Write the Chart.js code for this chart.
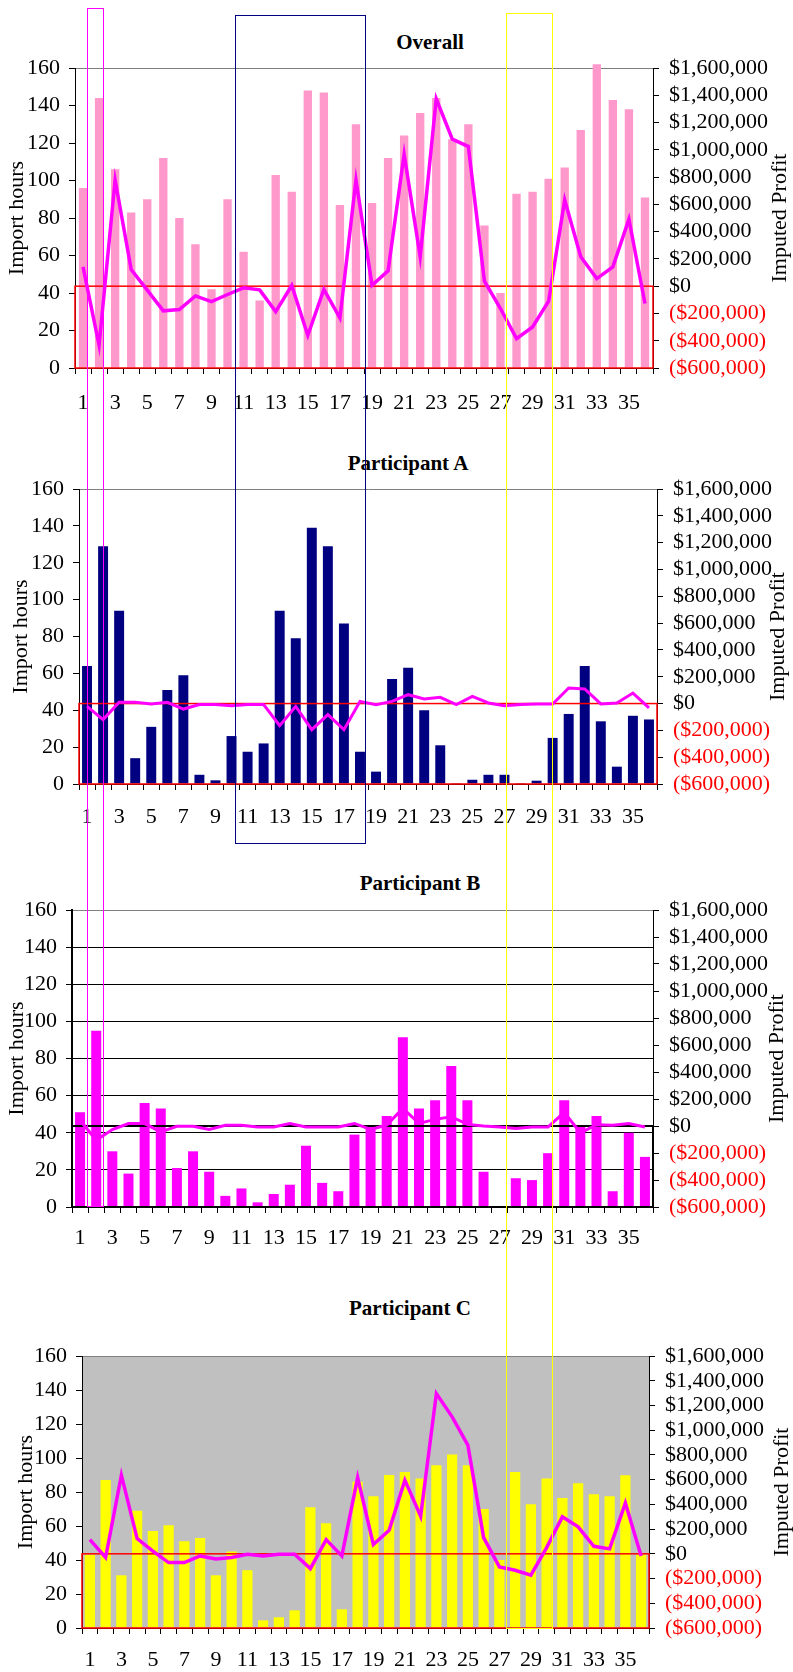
<!DOCTYPE html>
<html>
<head>
<meta charset="utf-8">
<script src="https://cdn.jsdelivr.net/npm/chart.js@4.4.1/dist/chart.umd.min.js"></script>
<style>
  body { margin: 0; background: #fff; }
  #page { position: relative; width: 793px; height: 1672px; overflow: hidden; font-family: "Liberation Serif", "Times New Roman", serif; }
  canvas { position: absolute; left: 0; }
  .title { position: absolute; font-weight: bold; font-size: 21px; line-height: 1; transform: translate(-50%, -50%); white-space: nowrap; color: #000; }
  .mark { position: absolute; box-sizing: border-box; pointer-events: none; z-index: 5; }
</style>
</head>
<body>
<div id="page">
  <div class="title" style="left:430px;top:42px">Overall</div>
  <div class="title" style="left:408px;top:463px">Participant A</div>
  <div class="title" style="left:420px;top:883px">Participant B</div>
  <div class="title" style="left:410px;top:1308px">Participant C</div>

  <canvas id="overall"></canvas>
  <canvas id="partA"></canvas>
  <canvas id="partB"></canvas>
  <canvas id="partC"></canvas>

  <div class="mark" style="left:87px;top:8px;width:17px;height:1199px;border:1.5px solid #FF00FF"></div>
  <div class="mark" style="left:235px;top:15px;width:131px;height:829px;border:1.5px solid #000080"></div>
  <div class="mark" style="left:506px;top:13px;width:47px;height:1616px;border:1.5px solid #FFFF00"></div>
</div>

<script>
const days = ['1','2','3','4','5','6','7','8','9','10','11','12','13','14','15','16','17','18',
              '19','20','21','22','23','24','25','26','27','28','29','30','31','32','33','34','35','36'];

// import hours (left axis)
const overallHours = [96,144,106,83,90,112,80,66,42,90,62,36,103,94,148,147,87,130,
                      88,112,124,136,144,122,130,76,40,93,94,101,107,127,162,143,138,91];
const aHours = [64,129,94,14,31,51,59,5,2,26,17.5,22,94,79,139,129,87,17.5,
                6.7,57,63,40,21,0.5,2.3,5,5,0.5,1.8,25,38,64,34,9.4,37,35];
const bHours = [51,95,30,18,56,53,21,30,19,6,10,2.5,7,12,33,13,8.5,39,
                44,49,91.5,53,57.5,76,57.5,19,0,15.5,14.5,29,57.5,44,49,8.5,40,27];
const cHours = [43,87,31,69,57,60.5,51,53,31,45,34,4.5,6.3,10.4,71,61.6,11,86,
                77.5,90,91.7,88,95.8,102,95.8,70,40,91.7,72.8,88,76.4,85.2,78.7,77.5,89.9,43];

// imputed profit (right axis)
const overallProfit = [142000,-434000,779000,122000,-29000,-181000,-171000,-71000,-113000,-61000,-12000,-27000,
                       -186000,5000,-360000,-24000,-233000,779000,7000,113000,968000,216000,1374000,1078000,
                       1024000,37000,-164000,-385000,-299000,-110000,632000,216000,56000,142000,492000,-127000];
const aProfit = [-21000,-120000,9000,9000,-3000,9000,-41000,-8000,-8000,-16000,-8000,-8000,
                 -165000,-21000,-195000,-83000,-195000,16000,-8000,16000,66000,34000,46000,-8000,
                 54000,4000,-16000,-8000,-3000,-3000,116000,109000,-3000,4000,78000,-33000];
const bProfit = [43000,-105000,-26000,18000,18000,-44000,-2000,-2000,-26000,6000,6000,-7000,
                 -7000,18000,-7000,-7000,-7000,19000,-25000,7000,130000,19000,49000,69000,
                 12000,0,-7000,-19000,-7000,-7000,100000,-50000,10000,6000,18000,-7000];
const cProfit = [115000,-30000,636000,123000,21000,-71000,-71000,-17000,-41000,-30000,-4000,-17000,
                 -4000,-4000,-120000,115000,-17000,617000,75000,191000,596000,304000,1297000,1108000,
                 879000,131000,-106000,-133000,-173000,50000,299000,218000,61000,40000,412000,-17000];

const hourTicks = { min: 0, max: 160, step: 20 };
const profitTicks = { min: -600000, max: 1600000, step: 200000 };

Chart.defaults.font.family = '"Liberation Serif", "Times New Roman", serif';
Chart.defaults.font.size = 22;
Chart.defaults.color = '#000';

const W = 793;

function money(v) {
  const s = '$' + Math.abs(v).toLocaleString('en-US');
  return v < 0 ? '(' + s + ')' : s;
}

// zero-profit box, plot background and the right axis title
const panelDecor = {
  id: 'panelDecor',
  beforeDraw(chart, args, o) {
    if (!o.plotBg) return;
    const a = chart.chartArea, ctx = chart.ctx;
    ctx.save();
    ctx.fillStyle = o.plotBg;
    ctx.fillRect(a.left, a.top, a.right - a.left, a.bottom - a.top);
    ctx.restore();
  },
  afterDatasetDraw(chart, args, o) {
    if (args.index !== 0) return;
    const a = chart.chartArea, ctx = chart.ctx;
    const y0 = chart.scales.y1.getPixelForValue(0);
    ctx.save();
    ctx.strokeStyle = o.boxColor;
    ctx.lineWidth = o.boxWidth;
    ctx.strokeRect(a.left, y0, a.right - a.left, a.bottom - y0);
    ctx.restore();
  },
  afterDraw(chart, args, o) {
    const a = chart.chartArea, ctx = chart.ctx;
    ctx.save();
    ctx.translate(o.titleX, (a.top + a.bottom) / 2);
    ctx.rotate(-Math.PI / 2);
    ctx.font = '22px "Liberation Serif", "Times New Roman", serif';
    ctx.fillStyle = '#000';
    ctx.textAlign = 'center';
    ctx.textBaseline = 'middle';
    ctx.fillText('Imputed Profit', 0, 0);
    ctx.restore();
  }
};

function makePanel(id, hours, profit, p) {
  const cv = document.getElementById(id);
  cv.width = W;
  cv.height = p.height;
  cv.style.top = p.top + 'px';
  const padLeft = p.leftTitleX - 13.2;

  new Chart(cv, {
    type: 'bar',
    data: {
      labels: days,
      datasets: [
        {
          type: 'bar',
          data: hours,
          backgroundColor: p.barColor,
          barPercentage: p.barPct,
          categoryPercentage: 1,
          yAxisID: 'y',
          order: 1,
          clip: false
        },
        {
          type: 'line',
          data: profit,
          borderColor: '#FF00FF',
          borderWidth: p.lineWidth,
          pointRadius: 0,
          tension: 0,
          fill: false,
          yAxisID: 'y1',
          order: 0
        }
      ]
    },
    options: {
      responsive: false,
      animation: false,
      events: [],
      layout: { padding: { top: p.plotTop - p.top, left: padLeft, right: 0, bottom: 0 } },
      plugins: {
        legend: { display: false },
        tooltip: { enabled: false },
        panelDecor: { boxColor: p.boxColor, boxWidth: p.boxWidth, plotBg: p.plotBg, titleX: p.rightTitleX }
      },
      scales: {
        x: {
          offset: true,
          grid: { offset: true, drawOnChartArea: false, tickLength: 6, color: '#000' },
          border: { color: '#000', width: p.axisWidth },
          ticks: {
            autoSkip: false,
            maxRotation: 0,
            padding: p.xPad,
            callback(v, i) { return i % 2 === 0 ? this.getLabelForValue(v) : ''; }
          },
          afterFit(s) { s.height = p.top + p.height - p.plotBottom; }
        },
        y: {
          position: 'left',
          min: hourTicks.min,
          max: hourTicks.max,
          ticks: { stepSize: hourTicks.step, padding: 9, autoSkip: false },
          title: { display: true, text: 'Import hours', padding: 0, font: { size: 22 } },
          grid: {
            tickLength: 6,
            tickColor: '#000',
            color(ctx) {
              if (ctx.tick && ctx.tick.value === hourTicks.max) return '#808080';
              return p.gridAll ? '#000' : 'rgba(0,0,0,0)';
            }
          },
          border: { color: '#000', width: p.axisWidth },
          afterFit(s) { s.width = p.plotLeft - padLeft; }
        },
        y1: {
          position: 'right',
          min: profitTicks.min,
          max: profitTicks.max,
          ticks: {
            stepSize: profitTicks.step,
            padding: 10,
            autoSkip: false,
            callback: (v) => money(v),
            color: (ctx) => (ctx.tick && ctx.tick.value < 0 ? '#FF0000' : '#000')
          },
          grid: { drawOnChartArea: false, tickLength: 6, color: '#000' },
          border: { color: '#000' },
          afterFit(s) { s.width = W - p.plotRight; }
        }
      }
    },
    plugins: [panelDecor]
  });
}

makePanel('overall', overallHours, overallProfit, {
  top: 0, height: 428, plotTop: 68, plotBottom: 368, plotLeft: 75, plotRight: 653,
  leftTitleX: 17, rightTitleX: 780, barColor: '#FF99CC', barPct: 0.52, lineWidth: 3.5,
  boxColor: '#FF0000', boxWidth: 1.5, gridAll: false, axisWidth: 1, xPad: 16
});
makePanel('partA', aHours, aProfit, {
  top: 430, height: 414, plotTop: 489, plotBottom: 784, plotLeft: 79, plotRight: 657,
  leftTitleX: 21, rightTitleX: 778, barColor: '#000080', barPct: 0.62, lineWidth: 3,
  boxColor: '#FF0000', boxWidth: 1.5, gridAll: false, axisWidth: 1, xPad: 14
});
makePanel('partB', bHours, bProfit, {
  top: 850, height: 417, plotTop: 910, plotBottom: 1207, plotLeft: 72, plotRight: 653,
  leftTitleX: 17, rightTitleX: 777, barColor: '#FF00FF', barPct: 0.62, lineWidth: 3,
  boxColor: '#000000', boxWidth: 2, gridAll: true, axisWidth: 2, xPad: 12
});
makePanel('partC', cHours, cProfit, {
  top: 1270, height: 402, plotTop: 1356, plotBottom: 1628, plotLeft: 82, plotRight: 649,
  leftTitleX: 26, rightTitleX: 782, barColor: '#FFFF00', barPct: 0.65, lineWidth: 3.5,
  boxColor: '#FF0000', boxWidth: 1.5, gridAll: false, axisWidth: 1, plotBg: '#C0C0C0', xPad: 13
});
</script>
</body>
</html>
